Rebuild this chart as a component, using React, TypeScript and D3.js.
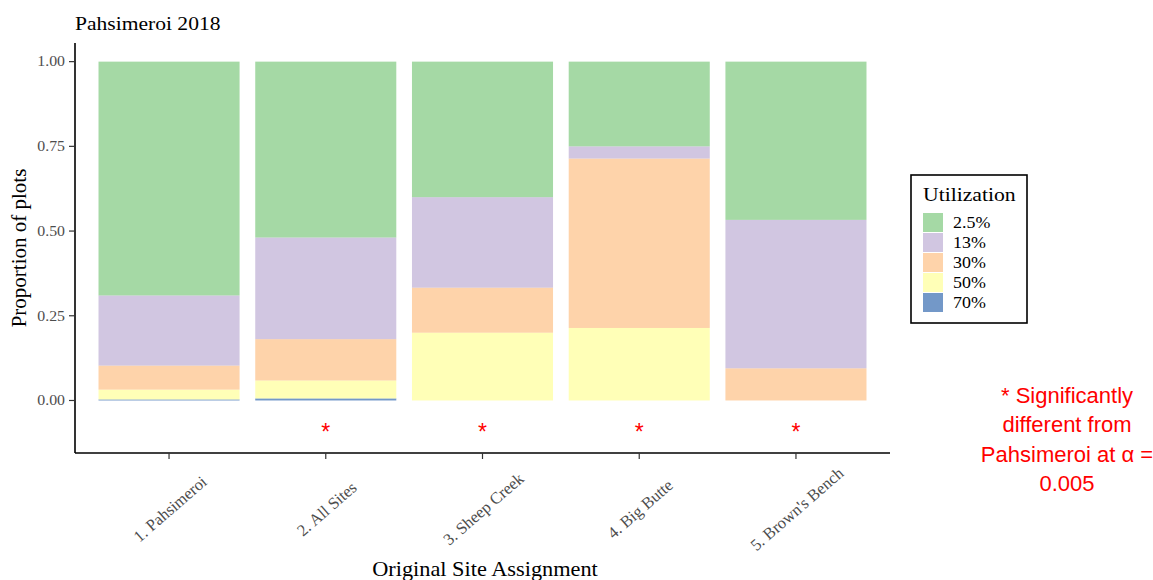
import * as d3 from "d3";

const sites = ["1. Pahsimeroi", "2. All Sites", "3. Sheep Creek", "4. Big Butte", "5. Brown's Bench"];
const levels = ["2.5%", "13%", "30%", "50%", "70%"];

// proportion of plots in each utilization class, per site
const p2_5 = [0.69, 0.519, 0.4, 0.25, 0.467];
const p13 = [0.207, 0.3, 0.267, 0.036, 0.438];
const p30 = [0.071, 0.122, 0.133, 0.5, 0.095];
const p50 = [0.029, 0.053, 0.2, 0.214, 0.0];
const p70 = [0.003, 0.006, 0.0, 0.0, 0.0];

const significant = [false, true, true, true, true];
const yTicks = [0, 0.25, 0.5, 0.75, 1];
const noteLines = ["* Significantly", "different from", "Pahsimeroi at α =", "0.005"];

const width = 1153;
const height = 580;
const marginLeft = 75;
const panelRight = 890;
const panelTop = 43;
const panelBottom = 453;

// the original figure was pasted a bit wider than it was drawn
const SX = 1.1;

const serif = "'Liberation Serif', 'Times New Roman', serif";

const App = () => {
  const rows = sites.map((s, i) => ({
    site: s,
    "2.5%": p2_5[i],
    "13%": p13[i],
    "30%": p30[i],
    "50%": p50[i],
    "70%": p70[i],
  }));

  // 70% at the bottom, 2.5% on top
  const stackKeys = [...levels].reverse();
  const series = d3.stack().keys(stackKeys)(rows as any);

  const color = d3.scaleOrdinal<string, string>().domain(levels).range(d3.schemeAccent.slice(0, 5));

  const x = d3.scaleBand().domain(sites).range([marginLeft, panelRight]).paddingInner(0.1).paddingOuter(0.15);

  // data range [-0.1, 1] expanded by 5% like ggplot
  const lo = -0.1;
  const hi = 1;
  const pad = (hi - lo) * 0.05;
  const y = d3.scaleLinear().domain([lo - pad, hi + pad]).range([panelBottom, panelTop]);

  const at = (px: number, py: number) => `translate(${px},${py}) scale(${SX},1)`;

  return (
    <div style={{ position: "absolute", left: 0, top: 0 }}>
      <svg width={width} height={height} viewBox={`0 0 ${width} ${height}`} style={{ display: "block", background: "#fff" }}>
        <text transform={at(marginLeft, 30)} fontFamily={serif} fontSize={19.6} fill="#000">
          Pahsimeroi 2018
        </text>

        <g className="bars">
          {series.map((s) => (
            <g key={s.key} fill={color(s.key)} fillOpacity={0.7}>
              {s.map((d, i) => (
                <rect
                  key={sites[i]}
                  x={x(sites[i])}
                  y={y(d[1])}
                  width={x.bandwidth()}
                  height={Math.max(0, y(d[0]) - y(d[1]))}
                />
              ))}
            </g>
          ))}
        </g>

        <g className="stars">
          {sites.map((s, i) =>
            significant[i] ? (
              <text
                key={s}
                x={x(s)! + x.bandwidth() / 2}
                y={y(-0.1) - 2}
                textAnchor="middle"
                dominantBaseline="central"
                fontFamily="'Liberation Sans', Arial, sans-serif"
                fontSize={23}
                fill="#ff0000"
              >
                *
              </text>
            ) : null
          )}
        </g>

        {/* y axis */}
        <g className="y-axis">
          <line x1={marginLeft} x2={marginLeft} y1={panelTop} y2={panelBottom} stroke="#000" strokeWidth={1.6} />
          {yTicks.map((t) => (
            <g key={t} transform={`translate(0,${y(t)})`}>
              <line x1={marginLeft - 6} x2={marginLeft} stroke="#333" strokeWidth={1.2} />
              <text
                transform={at(marginLeft - 10, 0)}
                textAnchor="end"
                dominantBaseline="central"
                fontFamily={serif}
                fontSize={14.4}
                fill="#4d4d4d"
              >
                {d3.format(".2f")(t)}
              </text>
            </g>
          ))}
        </g>

        {/* x axis */}
        <g className="x-axis">
          <line x1={marginLeft} x2={panelRight} y1={panelBottom} y2={panelBottom} stroke="#000" strokeWidth={1.6} />
          {sites.map((s) => {
            const cx = x(s)! + x.bandwidth() / 2;
            return (
              <g key={s} transform={`translate(${cx},${panelBottom})`}>
                <line y1={0} y2={6} stroke="#333" strokeWidth={1.2} />
                <text
                  transform="translate(1,56) rotate(-41)"
                  textAnchor="middle"
                  dominantBaseline="central"
                  fontFamily={serif}
                  fontSize={16.5}
                  fill="#4d4d4d"
                >
                  {s}
                </text>
              </g>
            );
          })}
        </g>

        <text transform={at(485, 576)} textAnchor="middle" fontFamily={serif} fontSize={20.3} fill="#000">
          Original Site Assignment
        </text>
        <text
          transform={`translate(26,${(panelTop + panelBottom) / 2}) rotate(-90)`}
          textAnchor="middle"
          fontFamily={serif}
          fontSize={21}
          fill="#000"
        >
          Proportion of plots
        </text>

        {/* legend */}
        <g className="legend" transform="translate(911,175)">
          <rect width={116} height={148} fill="#fff" stroke="#000" strokeWidth={1.6} />
          <text transform={at(12, 26)} fontFamily={serif} fontSize={19.7} fill="#000">
            Utilization
          </text>
          {levels.map((l, i) => (
            <g key={l} transform={`translate(12,${38 + i * 20})`}>
              <rect width={20} height={19} fill={color(l)} fillOpacity={0.7} />
              <text
                transform={at(30, 10)}
                dominantBaseline="central"
                fontFamily={serif}
                fontSize={16.3}
                fill="#000"
              >
                {l}
              </text>
            </g>
          ))}
        </g>

        {/* note */}
        <g className="note">
          {noteLines.map((line, i) => (
            <text
              key={line}
              x={1067}
              y={403 + i * 29.3}
              textAnchor="middle"
              fontFamily="'Liberation Sans', Arial, sans-serif"
              fontSize={22}
              fill="#ff0000"
            >
              {line}
            </text>
          ))}
        </g>
      </svg>
    </div>
  );
};

export default App;
